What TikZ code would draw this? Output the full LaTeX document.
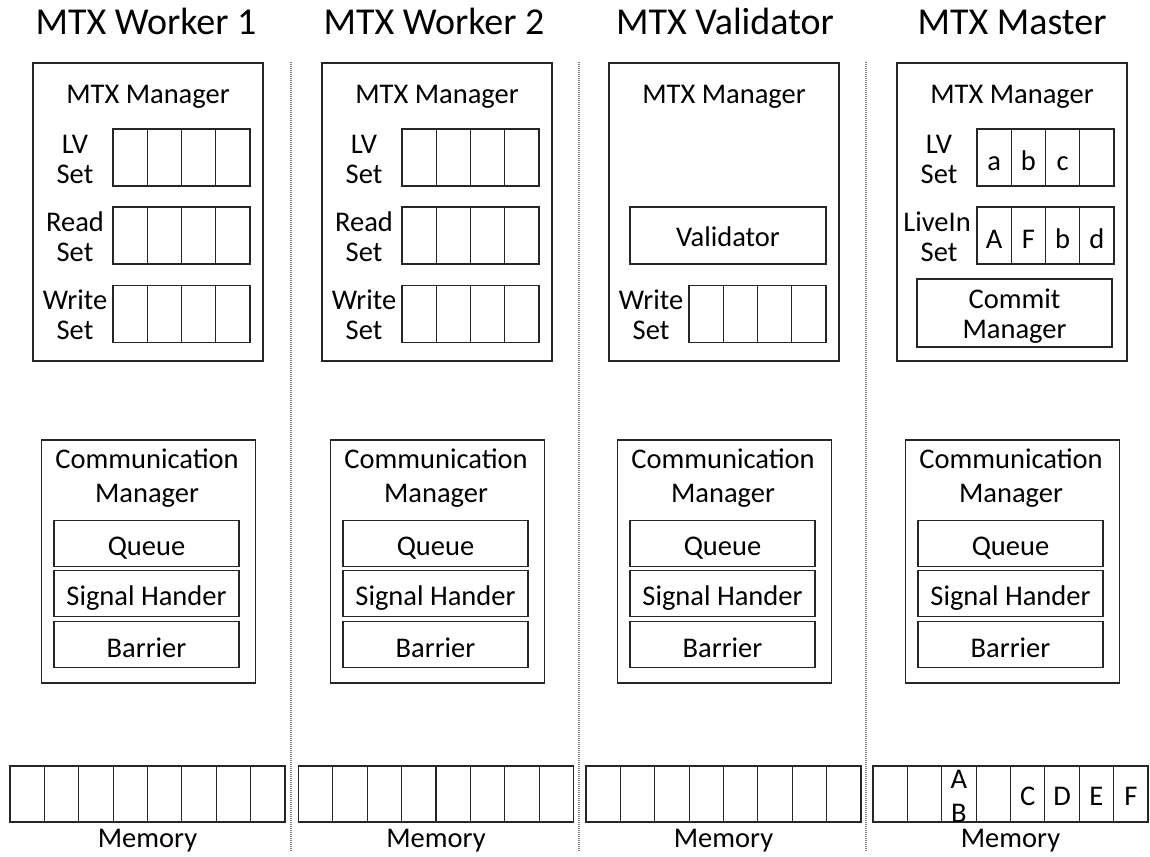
\documentclass[tikz,border=0pt]{standalone}
\usepackage{fontspec}
\setmainfont{Carlito}
\begin{document}
\begin{tikzpicture}[x=1pt,y=-1pt,
  frame/.style={draw=black!85, line width=1.2pt, inner sep=0pt, rectangle},
  slot/.style={frame, minimum width=34.25pt, minimum height=57pt},
  memslot/.style={frame, minimum width=34.375pt, minimum height=56pt},
  txt/.style={font=\fontsize{28.5}{30}\selectfont, inner sep=0pt, anchor=base},
  head/.style={font=\fontsize{38}{42}\selectfont, inner sep=0pt, anchor=base},
  sep/.style={draw=black!50, line width=1.3pt, dash pattern=on 1pt off 1pt},
]
\useasboundingbox (0,0) rectangle (1150,856);

% column headings
\node[head] (h1) at (146,35) {MTX Worker 1};
\node[head] (h2) at (434,35) {MTX Worker 2};
\node[head] (h3) at (725,35) {MTX Validator};
\node[head] (h4) at (1012,35) {MTX Master};

% dotted separators between the columns
\foreach \sx in {291,579,866} {
  \draw[sep] (\sx,62) -- (\sx,852);
}

% MTX managers of the two workers
\foreach \c/\cx in {1/148,2/437} {
  \node[frame, minimum width=230pt, minimum height=298pt] (mtx\c) at (\cx,212) {};
  \node[txt] (mtxt\c) at (\cx,103) {MTX Manager};
  \foreach \r/\y/\ya/\yb/\la in {lv/157.5/153/183/LV, rd/235.5/231/261/Read, wr/314/309/339/Write} {
    \node[txt] (\r l\c) at ({\cx-73},\ya) {\la};
    \node[txt] (\r s\c) at ({\cx-73},\yb) {Set};
    \foreach \i in {1,...,4} {
      \node[slot] (\r\c-\i) at ({\cx-35+34.25*(\i-0.5)},\y) {};
    }
  }
}

% MTX manager of the validator
\node[frame, minimum width=230pt, minimum height=298pt] (mtx3) at (724,212) {};
\node[txt] (mtxt3) at (724,103) {MTX Manager};
\node[frame, minimum width=196pt, minimum height=57pt] (val3) at (728,235.5) {};
\node[txt] (valt3) at (728,246) {Validator};
\node[txt] (wrl3) at (651,309) {Write};
\node[txt] (wrs3) at (651,339) {Set};
\foreach \i in {1,...,4} {
  \node[slot] (wr3-\i) at ({724-35+34.25*(\i-0.5)},314) {};
}

% MTX manager of the master
\node[frame, minimum width=230pt, minimum height=298pt] (mtx4) at (1012,212) {};
\node[txt] (mtxt4) at (1012,103) {MTX Manager};
\node[txt] (lvl4) at (939,153) {LV};
\node[txt] (lvs4) at (939,183) {Set};
\node[txt] (lil4) at (937,231) {LiveIn};
\node[txt] (lis4) at (939,261) {Set};
\foreach \i/\v in {1/a,2/b,3/c,4/{}} {
  \node[slot] (lv4-\i) at ({1012-35+34.25*(\i-0.5)},157.5) {};
  \node[txt] (lvv4-\i) at ({1012-35+34.25*(\i-0.5)},170) {\v};
}
\foreach \i/\v in {1/A,2/F,3/b,4/d} {
  \node[slot] (li4-\i) at ({1012-35+34.25*(\i-0.5)},235.5) {};
  \node[txt] (liv4-\i) at ({1012-35+34.25*(\i-0.5)},248) {\v};
}
\node[frame, minimum width=195pt, minimum height=68pt] (cm4) at (1014.5,313) {};
\node[txt] (cmt4) at (1014.5,308) {Commit};
\node[txt] (cmm4) at (1014.5,338) {Manager};

% communication managers
\foreach \c/\cx in {1/148,2/437,3/724,4/1012} {
  \node[frame, minimum width=214pt, minimum height=243pt] (com\c) at ({\cx+0.5},561.5) {};
  \node[txt] (comt\c) at ({\cx-1},468) {Communication};
  \node[txt] (comm\c) at ({\cx-1},502) {Manager};
  \foreach \k/\y/\yb/\t in {q/543.5/555/Queue, s/593.5/605/Signal Hander, b/644.5/657/Barrier} {
    \node[frame, minimum width=185pt, minimum height=46pt] (\k\c) at ({\cx-1.5},\y) {};
    \node[txt] (\k t\c) at ({\cx-1.5},\yb) {\t};
  }
}

% memories
\foreach \c/\mx in {1/147.5,2/436,3/723.5,4/1010.5} {
  \foreach \i in {1,...,8} {
    \node[memslot] (mem\c-\i) at ({\mx-137.5+34.375*(\i-0.5)},794) {};
  }
  \node[txt] (memt\c) at (\mx,847) {Memory};
}

% contents of the master's memory
\node[txt] (mva) at (mem4-3.center |- 0,788) {A};
\node[txt] (mvb) at (mem4-3.center |- 0,822) {B};
\foreach \i/\v in {5/C,6/D,7/E,8/F} {
  \node[txt] (mv\v) at (mem4-\i.center |- 0,805) {\v};
}
\end{tikzpicture}
\end{document}
